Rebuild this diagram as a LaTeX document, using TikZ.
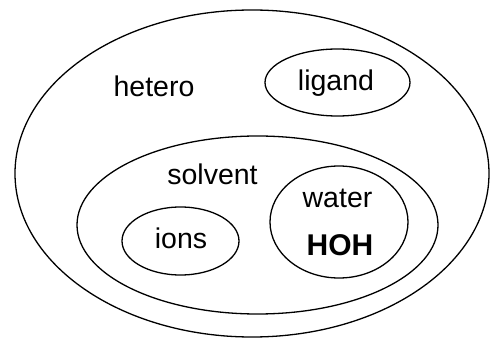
\documentclass[tikz,border=0pt]{standalone}
\usepackage{fontspec}
\setmainfont{Liberation Sans}
\usetikzlibrary{shapes.geometric}
\begin{document}
\begin{tikzpicture}[x=1pt,y=-1pt,
  region/.style={draw=black,line width=1.3pt,ellipse,inner sep=0pt},
  lbl/.style={anchor=base,inner sep=0pt,font=\fontsize{28.5}{30}\selectfont},
  boldlbl/.style={anchor=base,inner sep=0pt,font=\fontsize{30}{32}\selectfont\bfseries}]
  \useasboundingbox (0,0) rectangle (490,339);
  % nested regions
  \node[region,minimum width=474pt,minimum height=327pt] (hetero) at (252,173.5) {};
  \node[region,minimum width=145pt,minimum height=67pt] (ligand) at (337.5,82.5) {};
  \node[region,minimum width=361pt,minimum height=178pt] (solvent) at (257.5,225) {};
  \node[region,minimum width=117pt,minimum height=68pt] (ions) at (180.5,241) {};
  \node[region,minimum width=138pt,minimum height=112pt] (water) at (339,222) {};
  % labels
  \node[lbl] (heterolbl) at (154,96.5) {hetero};
  \node[lbl] (ligandlbl) at (336,91) {ligand};
  \node[lbl] (solventlbl) at (212.5,185) {solvent};
  \node[lbl] (waterlbl) at (337.5,208) {water};
  \node[boldlbl] (hohlbl) at (340,255) {HOH};
  \node[lbl] (ionslbl) at (181,248) {ions};
\end{tikzpicture}
\end{document}
